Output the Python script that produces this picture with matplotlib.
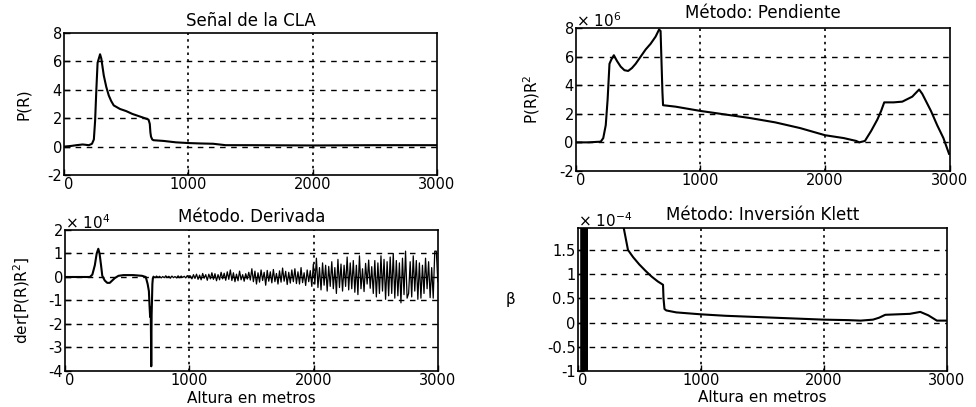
import numpy as np
import matplotlib
matplotlib.use("Agg")
import matplotlib.pyplot as plt

plt.rcParams['font.family'] = ['DejaVu Sans']
plt.rcParams['font.size'] = 10.5

# --- Señal de la CLA : P(R)
sig_x = [0, 60, 100, 150, 200, 225, 240, 250, 260, 270, 280, 290, 300, 310, 320, 340, 360, 380,
         400, 450, 500, 550, 600, 650, 680, 690, 695, 700, 710, 720, 800, 900, 1000, 1100,
         1200, 1250, 1300, 1500, 2000, 2500, 3000]
sig_y = [0.0, 0.05, 0.1, 0.15, 0.1, 0.2, 0.5, 1.8, 4.0, 5.9, 6.2, 6.5, 6.2, 5.6, 5.0, 4.2, 3.6, 3.2,
         2.9, 2.65, 2.5, 2.3, 2.15, 2.0, 1.9, 1.6, 1.0, 0.7, 0.5, 0.45, 0.4, 0.3, 0.25, 0.22,
         0.2, 0.15, 0.1, 0.1, 0.08, 0.1, 0.1]

# --- Método: Pendiente : P(R)R^2  (x 10^6)
pend_x = [0, 100, 200, 220, 240, 255, 270, 285, 305, 330, 360, 390, 420, 450, 480, 520, 560, 600,
          640, 668, 680, 688, 695, 700, 800, 900, 1000, 1200, 1400, 1600, 1800, 2000, 2150, 2250,
          2275, 2320, 2370, 2420, 2450, 2475, 2550, 2620, 2700, 2755, 2780, 2850, 2900, 2950, 2995]
pend_y = [0.0, 0.0, 0.05, 0.3, 1.2, 3.0, 5.5, 5.8, 6.1, 5.7, 5.3, 5.05, 5.0, 5.2, 5.5, 6.0, 6.5, 6.9,
          7.4, 7.9, 7.8, 5.5, 3.5, 2.6, 2.5, 2.35, 2.2, 1.95, 1.7, 1.4, 1.0, 0.5, 0.3, 0.1,
          0.0, 0.1, 0.8, 1.6, 2.2, 2.8, 2.8, 2.85, 3.2, 3.7, 3.4, 2.2, 1.2, 0.3, -0.8]

# --- Método: Derivada : der[P(R)R^2]  (x 10^4)
der_x = [0, 100, 200, 220, 240, 255, 268, 278, 290, 300, 320, 340, 360, 380, 400, 430, 470, 550,
         620, 650, 665, 675, 680, 685, 690, 694, 697, 700, 703, 707, 712]
der_y = [0.0, 0.0, 0.0, 0.1, 0.5, 1.0, 1.2, 1.0, 0.5, 0.05, -0.15, -0.25, -0.25, -0.15, -0.05, 0.05,
         0.08, 0.08, 0.05, 0.0, -0.3, -0.6, -1.2, -1.7, -1.3, -3.8, -1.6, -1.0, -0.3, -0.05, 0.0]
der_noise = [0.02, -0.03, 0.04, -0.02, 0.03, -0.04, 0.02, -0.03, 0.05, -0.02, 0.03, -0.05, 0.04,
             -0.03, 0.02, -0.04, 0.05, -0.03, 0.04, -0.02, 0.03, -0.04, 0.06, -0.03, 0.05,
             -0.08, 0.1, -0.06, 0.12, -0.1, 0.08, -0.12, 0.15, -0.05, 0.1, -0.14, 0.12, -0.08,
             0.18, -0.1, 0.14, -0.16, 0.1, -0.12, 0.2, -0.08, 0.16, -0.14, 0.22, -0.1, 0.3,
             -0.15, 0.18, -0.2, 0.12, -0.16, 0.25, -0.12, 0.1, -0.18, 0.14, -0.09, 0.2, -0.13,
             0.35, -0.2, 0.25, -0.3, 0.18, -0.22, 0.3, -0.15, 0.2, -0.35, 0.28, -0.18, 0.22,
             -0.25, 0.32, -0.2, 0.15, -0.3, 0.26, -0.22, 0.38, -0.18, 0.24, -0.32, 0.2, -0.26,
             0.3, -0.2, 0.35, -0.28, 0.22, -0.3, 0.4, -0.24, 0.18, -0.36, 0.3, -0.2, 0.27,
             -0.4, 0.55, -0.3, 0.8, -0.45, 0.4, -0.55, 0.6, -0.35, 0.5, -0.6, 0.45, -0.4, 0.65,
             -0.5, 0.4, -0.7, 0.75, -0.45, 0.55, -0.6, 0.5, -0.4, 0.85, -0.55, 0.6, -0.5, 0.7,
             -0.65, 0.5, -0.75, 0.9, -0.5, 0.35, -0.62, 0.58, -0.3, 0.72, -0.48, 0.44, -0.7,
             0.7, -0.85, 0.6, -0.7, 0.9, -0.6, 0.75, -0.95, 0.65, -0.8, 0.85, -0.7, 1.0, -0.9,
             0.7, -0.8, 0.6, -1.1, 0.8, -0.75, 1.1, -0.9, -0.7, 0.65, -0.85, 0.9, -0.6, 0.7,
             -0.95, 0.6, -0.9, 0.5, -0.7, 0.8, -0.5, 0.65, -0.88, 0.4, -0.9, 1.1, 1.1, -0.2]

# --- Método: Inversión Klett : beta  (x 10^-4)
klett_x = [28, 28, 48, 52, 56, 60, 64, 68, 72, 72, 370, 408, 450, 500, 550, 600, 650, 693, 697,
           705, 720, 800, 900, 1000, 1200, 1500, 1800, 2000, 2200, 2300, 2400, 2450, 2500,
           2600, 2700, 2785, 2850, 2920, 3000]
klett_y = [-60, 60, -60, 60, -60, 60, -60, 60, -60, 60, 2.0, 1.5, 1.35, 1.2, 1.07, 0.95, 0.85, 0.78,
           0.5, 0.28, 0.25, 0.21, 0.19, 0.17, 0.14, 0.11, 0.08, 0.06, 0.05, 0.04, 0.06, 0.1, 0.16,
           0.17, 0.18, 0.22, 0.15, 0.04, 0.04]

fig = plt.figure(figsize=(9.76, 4.07), dpi=100)

def style(ax, ylim, yticks, ylabels):
    ax.set_xlim(0, 3000)
    ax.set_ylim(*ylim)
    ax.set_xticks([0, 1000, 2000, 3000])
    ax.set_yticks(yticks)
    ax.set_yticklabels(ylabels)
    ax.tick_params(direction='in', length=4, width=1, colors='black', pad=1.5)
    # first x label sits just right of the corner, as in the original
    ax.get_xticklabels()[0].set_horizontalalignment('left')
    for s in ax.spines.values():
        s.set_linewidth(1.2)
    ax.grid(True, axis='y', color='black', linestyle=(0, (4, 4)), linewidth=1)
    ax.grid(True, axis='x', color='black', linestyle=(0, (1.5, 2.5)), linewidth=1.2)
    # no grid on the frame edges
    for tick, v in zip(ax.yaxis.get_major_ticks(), yticks):
        if v <= ylim[0] or v >= ylim[1]:
            tick.gridline.set_visible(False)
    for tick, v in zip(ax.xaxis.get_major_ticks(), [0, 1000, 2000, 3000]):
        if v in (0, 3000):
            tick.gridline.set_visible(False)

# top left
ax1 = fig.add_axes([0.0656, 0.570, 0.382, 0.349])
ax1.plot(sig_x, sig_y, color='black', linewidth=1.5)
style(ax1, (-2, 8), [-2, 0, 2, 4, 6, 8], ['-2', '0', '2', '4', '6', '8'])
ax1.set_title('Señal de la CLA', fontsize=12, pad=5)
ax1.set_ylabel('P(R)', fontsize=11, labelpad=12)

# top right
ax2 = fig.add_axes([0.590, 0.580, 0.383, 0.351])
ax2.plot(pend_x, pend_y, color='black', linewidth=1.5)
style(ax2, (-2, 8), [-2, 0, 2, 4, 6, 8], ['-2', '0', '2', '4', '6', '8'])
ax2.set_title('Método: Pendiente', fontsize=12, pad=7)
ax2.set_ylabel('P(R)R$^2$', fontsize=11, labelpad=12)
ax2.text(0.0, 1.01, '× 10$^6$', transform=ax2.transAxes, fontsize=11)

# bottom left
ax3 = fig.add_axes([0.0666, 0.0885, 0.382, 0.3464])
ax3.plot(der_x, der_y, color='black', linewidth=1.5)
ax3.plot(np.linspace(712, 3000, len(der_noise)), der_noise, color='black', linewidth=0.9)
style(ax3, (-4, 2), [-4, -3, -2, -1, 0, 1, 2], ['-4', '-3', '-2', '-1', '0', '1', '2'])
ax3.set_title('Método. Derivada', fontsize=12, pad=6)
ax3.set_ylabel('der[P(R)R$^2$]', fontsize=11, labelpad=12)
ax3.text(0.0, 1.01, '× 10$^4$', transform=ax3.transAxes, fontsize=11)
fig.text(0.0666 + 0.382 / 2, 1 - 398.5 / 407, 'Altura en metros', fontsize=11,
         ha='center', va='center')

# bottom right
ax4 = fig.add_axes([0.592, 0.0885, 0.378, 0.351])
ax4.plot(klett_x, klett_y, color='black', linewidth=1.5)
style(ax4, (-1, 1.95), [-1, -0.5, 0, 0.5, 1, 1.5], ['-1', '-0.5', '0', '0.5', '1', '1.5'])
ax4.set_title('Método: Inversión Klett', fontsize=12, pad=6)
ax4.set_ylabel('β', fontsize=11, rotation=0, labelpad=26, va='center')
ax4.text(0.0, 1.01, '× 10$^{-4}$', transform=ax4.transAxes, fontsize=11)
fig.text(0.592 + 0.378 / 2, 1 - 397 / 407, 'Altura en metros', fontsize=11,
         ha='center', va='center')

fig.savefig('out.png', dpi=100)
